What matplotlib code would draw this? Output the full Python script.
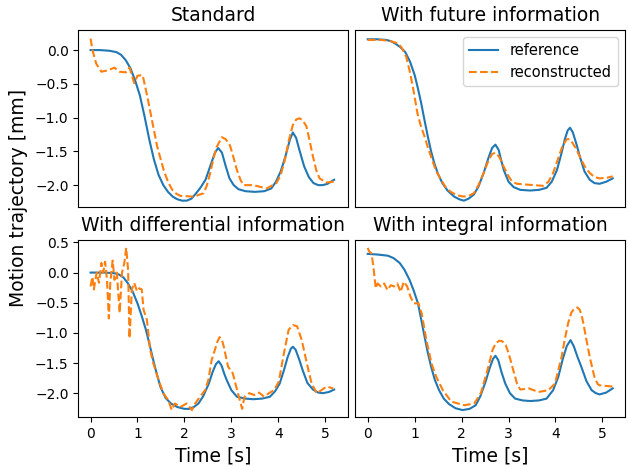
import matplotlib
matplotlib.use('Agg')
from matplotlib import pyplot as plt

# ---- Standard
t_ref_std = [0.0, 0.2, 0.4, 0.55, 0.65, 0.75, 0.85, 0.95, 1.05, 1.15, 1.25, 1.35, 1.45, 1.55, 1.65, 1.75, 1.85, 1.95, 2.05, 2.15, 2.25, 2.35, 2.45, 2.55, 2.65, 2.72, 2.8, 2.88, 2.96, 3.05, 3.15, 3.3, 3.5, 3.7, 3.85, 3.95, 4.05, 4.15, 4.25, 4.31, 4.38, 4.45, 4.55, 4.65, 4.75, 4.85, 4.95, 5.05, 5.19]
y_ref_std = [0.0, 0.0, -0.01, -0.03, -0.07, -0.15, -0.27, -0.45, -0.67, -0.98, -1.32, -1.62, -1.85, -2.0, -2.1, -2.17, -2.21, -2.23, -2.23, -2.2, -2.12, -2.03, -1.92, -1.72, -1.52, -1.45, -1.52, -1.72, -1.9, -2.0, -2.06, -2.09, -2.1, -2.09, -2.05, -1.95, -1.8, -1.58, -1.32, -1.22, -1.3, -1.48, -1.72, -1.88, -1.97, -2.0, -2.0, -1.98, -1.92]
t_rec_std = [0.0, 0.04, 0.12, 0.23, 0.37, 0.51, 0.61, 0.75, 0.83, 0.93, 1.0, 1.11, 1.21, 1.32, 1.42, 1.56, 1.65, 1.74, 1.83, 1.92, 2.20, 2.41, 2.48, 2.55, 2.62, 2.69, 2.80, 2.88, 2.97, 3.05, 3.12, 3.2, 3.26, 3.47, 3.75, 3.96, 4.05, 4.14, 4.22, 4.31, 4.38, 4.45, 4.52, 4.60, 4.67, 4.74, 4.81, 4.88, 5.02, 5.19]
y_rec_std = [0.17, 0.0, -0.20, -0.32, -0.30, -0.26, -0.32, -0.33, -0.26, -0.49, -0.38, -0.37, -0.69, -1.08, -1.43, -1.78, -1.95, -2.07, -2.13, -2.16, -2.17, -2.12, -2.0, -1.82, -1.6, -1.43, -1.29, -1.32, -1.41, -1.6, -1.78, -1.93, -2.00, -2.00, -2.05, -1.97, -1.85, -1.63, -1.35, -1.11, -1.03, -1.01, -1.04, -1.13, -1.35, -1.58, -1.78, -1.90, -1.96, -1.95]

# ---- With future information
t_ref_fut = [0.0, 0.2, 0.4, 0.5, 0.6, 0.7, 0.8, 0.9, 1.0, 1.07, 1.14, 1.21, 1.28, 1.35, 1.42, 1.5, 1.59, 1.7, 1.84, 1.95, 2.05, 2.15, 2.26, 2.36, 2.47, 2.57, 2.65, 2.72, 2.79, 2.85, 2.90, 3.0, 3.11, 3.25, 3.46, 3.65, 3.81, 3.92, 4.03, 4.12, 4.2, 4.26, 4.31, 4.37, 4.45, 4.52, 4.62, 4.73, 4.83, 4.94, 5.08, 5.22]
y_ref_fut = [0.16, 0.16, 0.15, 0.13, 0.09, 0.04, -0.03, -0.17, -0.37, -0.57, -0.79, -1.04, -1.28, -1.5, -1.68, -1.84, -1.97, -2.08, -2.17, -2.21, -2.23, -2.2, -2.14, -2.02, -1.82, -1.6, -1.45, -1.40, -1.48, -1.65, -1.78, -1.95, -2.03, -2.07, -2.08, -2.07, -2.04, -1.95, -1.78, -1.55, -1.32, -1.19, -1.15, -1.22, -1.4, -1.58, -1.8, -1.92, -1.97, -1.98, -1.95, -1.90]
t_rec_fut = [0.0, 0.3, 0.5, 0.64, 0.72, 0.82, 0.89, 0.96, 1.06, 1.13, 1.21, 1.28, 1.35, 1.45, 1.56, 1.66, 1.77, 1.9, 2.05, 2.15, 2.26, 2.36, 2.47, 2.57, 2.65, 2.72, 2.80, 2.90, 3.0, 3.08, 3.18, 3.35, 3.53, 3.74, 3.85, 3.95, 4.05, 4.15, 4.24, 4.3, 4.34, 4.43, 4.52, 4.62, 4.73, 4.83, 4.94, 5.1, 5.22]
y_rec_fut = [0.15, 0.15, 0.13, 0.10, 0.04, -0.10, -0.3, -0.54, -0.94, -1.12, -1.28, -1.44, -1.58, -1.78, -1.92, -2.03, -2.10, -2.15, -2.17, -2.16, -2.12, -2.0, -1.82, -1.64, -1.54, -1.52, -1.58, -1.73, -1.87, -1.95, -1.98, -1.99, -2.0, -2.01, -1.95, -1.82, -1.62, -1.42, -1.32, -1.32, -1.35, -1.45, -1.58, -1.72, -1.82, -1.88, -1.90, -1.89, -1.87]

# ---- With differential information
t_ref_dif = [0.0, 0.3, 0.5, 0.6, 0.7, 0.79, 0.9, 1.0, 1.09, 1.18, 1.25, 1.32, 1.4, 1.49, 1.6, 1.71, 1.85, 2.0, 2.1, 2.2, 2.30, 2.4, 2.52, 2.6, 2.67, 2.73, 2.79, 2.85, 2.90, 3.0, 3.12, 3.3, 3.47, 3.65, 3.82, 3.93, 4.03, 4.12, 4.2, 4.27, 4.31, 4.37, 4.45, 4.52, 4.62, 4.74, 4.85, 4.95, 5.08, 5.19]
y_ref_dif = [0.0, 0.0, -0.01, -0.03, -0.08, -0.17, -0.32, -0.51, -0.72, -0.95, -1.17, -1.40, -1.65, -1.90, -2.08, -2.17, -2.23, -2.26, -2.26, -2.23, -2.17, -2.05, -1.84, -1.65, -1.52, -1.47, -1.54, -1.68, -1.78, -1.95, -2.06, -2.09, -2.10, -2.09, -2.06, -1.97, -1.84, -1.62, -1.4, -1.26, -1.23, -1.28, -1.45, -1.62, -1.83, -1.94, -1.99, -2.0, -1.98, -1.94]
t_rec_dif = [0.0, 0.04, 0.07, 0.13, 0.18, 0.23, 0.27, 0.31, 0.35, 0.39, 0.42, 0.47, 0.51, 0.56, 0.62, 0.67, 0.72, 0.76, 0.80, 0.83, 0.88, 0.93, 0.99, 1.04, 1.09, 1.13, 1.20, 1.27, 1.34, 1.45, 1.55, 1.66, 1.73, 1.80, 1.91, 2.05, 2.16, 2.23, 2.33, 2.44, 2.51, 2.58, 2.65, 2.70, 2.75, 2.80, 2.84, 2.93, 3.03, 3.14, 3.23, 3.28, 3.38, 3.49, 3.59, 3.70, 3.80, 3.91, 4.01, 4.12, 4.22, 4.31, 4.40, 4.50, 4.61, 4.71, 4.82, 4.92, 5.03, 5.17]
y_rec_dif = [-0.23, -0.07, -0.28, 0.0, -0.17, 0.16, 0.0, 0.18, -0.12, -0.76, -0.17, 0.20, -0.12, 0.0, -0.67, 0.0, 0.16, 0.41, 0.04, -1.09, -0.28, -0.17, -0.31, -0.26, -0.28, -0.62, -0.78, -1.28, -1.51, -1.78, -2.00, -2.12, -2.28, -2.17, -2.23, -2.17, -2.28, -2.17, -2.06, -1.95, -1.78, -1.45, -1.28, -1.15, -1.07, -1.12, -1.23, -1.56, -1.67, -2.00, -2.26, -2.06, -2.00, -2.03, -1.99, -2.06, -2.00, -1.95, -1.81, -1.34, -0.95, -0.87, -0.89, -1.12, -1.51, -1.84, -2.00, -1.95, -1.89, -1.92]

# ---- With integral information
t_ref_int = [0.0, 0.2, 0.43, 0.55, 0.68, 0.78, 0.89, 0.98, 1.07, 1.14, 1.21, 1.28, 1.35, 1.43, 1.52, 1.62, 1.73, 1.87, 2.02, 2.17, 2.30, 2.40, 2.51, 2.6, 2.67, 2.72, 2.78, 2.85, 2.93, 3.03, 3.14, 3.3, 3.46, 3.65, 3.81, 3.95, 4.06, 4.15, 4.24, 4.32, 4.39, 4.47, 4.55, 4.66, 4.77, 4.86, 4.94, 5.08, 5.22]
y_ref_int = [0.31, 0.30, 0.28, 0.24, 0.16, 0.05, -0.12, -0.3, -0.51, -0.78, -1.06, -1.33, -1.56, -1.78, -1.95, -2.09, -2.18, -2.25, -2.28, -2.26, -2.20, -2.05, -1.81, -1.58, -1.43, -1.38, -1.45, -1.65, -1.84, -2.0, -2.09, -2.12, -2.13, -2.12, -2.09, -1.95, -1.73, -1.45, -1.22, -1.12, -1.22, -1.4, -1.56, -1.8, -1.95, -2.0, -2.02, -1.99, -1.92]
t_rec_int = [0.0, 0.03, 0.08, 0.12, 0.17, 0.21, 0.28, 0.35, 0.42, 0.49, 0.56, 0.63, 0.70, 0.77, 0.84, 0.91, 0.98, 1.08, 1.15, 1.25, 1.36, 1.46, 1.60, 1.78, 1.92, 2.06, 2.27, 2.41, 2.55, 2.66, 2.73, 2.80, 2.87, 2.94, 3.01, 3.08, 3.18, 3.25, 3.43, 3.64, 3.85, 3.99, 4.13, 4.2, 4.27, 4.34, 4.41, 4.47, 4.52, 4.57, 4.62, 4.73, 4.83, 4.9, 4.94, 5.22]
y_rec_int = [0.41, 0.35, 0.32, 0.10, -0.26, -0.18, -0.23, -0.18, -0.29, -0.21, -0.23, -0.18, -0.32, -0.15, -0.23, -0.40, -0.51, -0.51, -0.68, -1.12, -1.51, -1.73, -1.95, -2.14, -2.17, -2.20, -2.17, -2.00, -1.62, -1.28, -1.17, -1.13, -1.14, -1.20, -1.36, -1.56, -1.84, -1.94, -1.92, -1.98, -1.95, -1.84, -1.40, -1.1, -0.84, -0.66, -0.59, -0.58, -0.62, -0.75, -0.95, -1.40, -1.73, -1.85, -1.87, -1.89]

titles = ['Standard', 'With future information', 'With differential information', 'With integral information']
panels = [(t_ref_std, y_ref_std, t_rec_std, y_rec_std),
          (t_ref_fut, y_ref_fut, t_rec_fut, y_rec_fut),
          (t_ref_dif, y_ref_dif, t_rec_dif, y_rec_dif),
          (t_ref_int, y_ref_int, t_rec_int, y_rec_int)]

fig, axs = plt.subplots(2, 2, figsize=(6.29, 4.66), dpi=100, sharex=True, sharey='row')
fig.subplots_adjust(left=0.1245, right=0.9936, top=0.936, bottom=0.1045, wspace=0.0286, hspace=0.182)

for ax, title, (tr, yr, tc, yc) in zip(axs.flat, titles, panels):
    ax.plot(tr, yr, color='C0', lw=1.5, label='reference')
    ax.plot(tc, yc, color='C1', lw=1.5, ls='--', label='reconstructed')
    ax.set_title(title, fontsize=13.5)

axs[0, 0].set_ylim(-2.33, 0.30)
axs[1, 0].set_ylim(-2.40, 0.545)
axs[0, 0].set_yticks([0.0, -0.5, -1.0, -1.5, -2.0])
axs[1, 0].set_yticks([0.5, 0.0, -0.5, -1.0, -1.5, -2.0])
axs[1, 0].set_xticks([0, 1, 2, 3, 4, 5])

for ax in axs[0]:
    ax.tick_params(bottom=False, labelbottom=False)
for ax in axs[:, 1]:
    ax.tick_params(left=False, labelleft=False)
for ax in axs[1]:
    ax.set_xlabel('Time [s]', fontsize=13.5)

axs[0, 1].legend(loc='upper right', fontsize=10.5)
fig.text(0.03, 0.575, 'Motion trajectory [mm]', rotation=90, fontsize=13.5, ha='center', va='center')

fig.savefig('out.png', dpi=100)
